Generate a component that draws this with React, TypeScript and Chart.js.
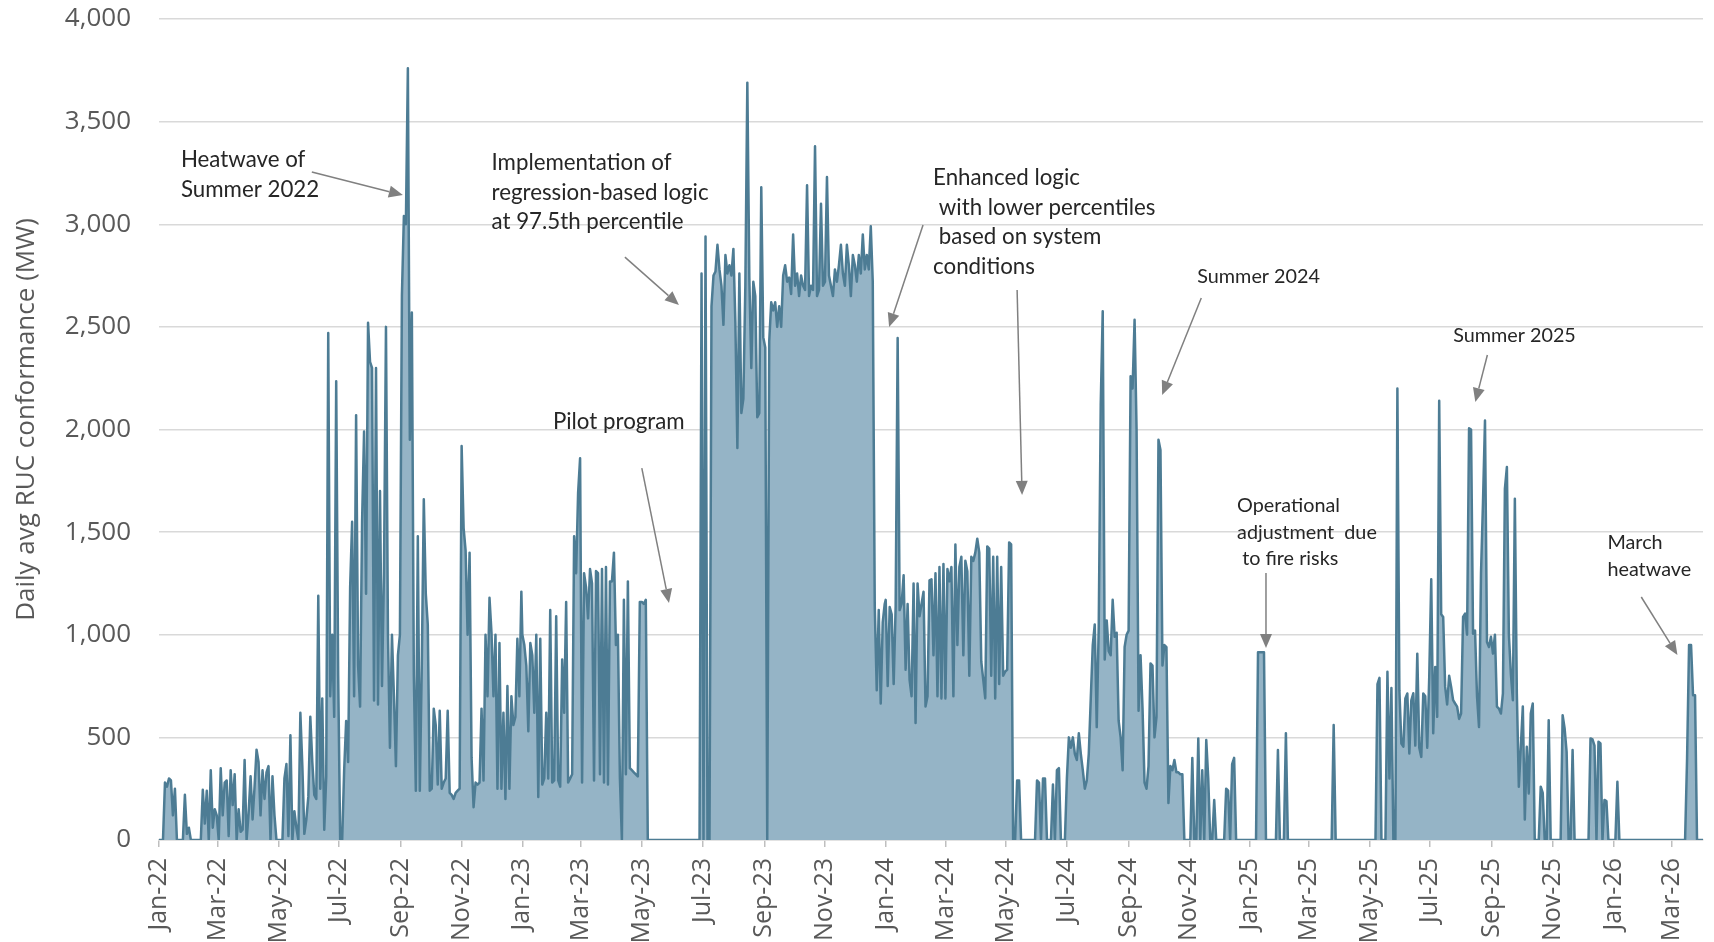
import React, { useEffect, useRef } from 'react';
import { Chart, registerables } from 'chart.js';

Chart.register(...registerables);

const MONTHS = ['Jan', 'Feb', 'Mar', 'Apr', 'May', 'Jun', 'Jul', 'Aug', 'Sep', 'Oct', 'Nov', 'Dec'];
const ORIGIN = Date.UTC(2022, 0, 1);
const dayOf = (y: number, m: number, d = 1) => Math.round((Date.UTC(y, m, d) - ORIGIN) / 864e5);

// X-axis tick labels (every two months)
const tickLabels = [
  'Jan-22', 'Mar-22', 'May-22', 'Jul-22', 'Sep-22', 'Nov-22',
  'Jan-23', 'Mar-23', 'May-23', 'Jul-23', 'Sep-23', 'Nov-23',
  'Jan-24', 'Mar-24', 'May-24', 'Jul-24', 'Sep-24', 'Nov-24',
  'Jan-25', 'Mar-25', 'May-25', 'Jul-25', 'Sep-25', 'Nov-25',
  'Jan-26', 'Mar-26',
];
const yTickValues = [0, 500, 1000, 1500, 2000, 2500, 3000, 3500, 4000];
const axisEnd = [2026, 3, 1]; // 1 Apr 2026

// Daily avg RUC conformance (MW), one reading every 2 days from 1 Jan of each year
const STEP_DAYS = 2;
const seriesYears = [2022, 2023, 2024, 2025, 2026];

const mw2022 = [
  0, 0, 0, 280, 260, 300, 290, 120, 250, 0, 0, 0, 0, 220, 30, 60, // Jan
  0, 0, 0, 0, 0, 0, 245, 80, 240, 0, 340, 60, 150, 120, // Feb
  0, 350, 120, 280, 290, 20, 340, 170, 320, 0, 150, 40, 50, 390, 0, // Mar
  130, 310, 100, 260, 440, 380, 120, 340, 200, 330, 360, 0, 310, 120, 0, // Apr
  0, 0, 0, 300, 370, 20, 510, 0, 140, 60, 0, 620, 360, 30, 100, 210, // May
  600, 380, 220, 200, 1190, 250, 690, 50, 310, 2470, 700, 1000, 600, 2235, 800, // Jun
  0, 0, 340, 580, 380, 1230, 1550, 700, 2070, 850, 650, 1550, 1990, 1200, 2520, // Jul
  2330, 2300, 680, 2300, 660, 1700, 750, 1300, 2500, 1000, 450, 1000, 700, 360, 900, 1000, // Aug
  2650, 3040, 3000, 3760, 1950, 2570, 800, 240, 1480, 240, 860, 1660, 1200, 1050, 240, // Sep
  250, 640, 560, 270, 630, 250, 280, 300, 630, 230, 220, 200, 230, 240, 250, // Oct
  1920, 1520, 1410, 1000, 1400, 400, 160, 280, 270, 280, 640, 290, 1000, 700, 1180, // Nov
  1010, 700, 1000, 250, 960, 250, 620, 200, 750, 250, 700, 560, 600, 980, 700, 1210, // Dec
];

const mw2023 = [
  1000, 950, 850, 530, 960, 900, 620, 1000, 210, 980, 270, 300, 620, 300, 1120, 280, // Jan
  290, 1090, 290, 260, 880, 620, 1160, 280, 300, 320, 1480, 1300, 1690, 1860, // Feb
  280, 1300, 1230, 1080, 1320, 1250, 290, 1310, 1300, 320, 1320, 280, 1330, 270, 1260, // Mar
  1260, 1400, 950, 1000, 300, 0, 1170, 320, 1260, 350, 340, 330, 320, 310, 1160, // Apr
  1160, 1150, 1170, 0, 0, 0, 0, 0, 0, 0, 0, 0, 0, 0, 0, 0, // May
  0, 0, 0, 0, 0, 0, 0, 0, 0, 0, 0, 0, 0, 0, 2760, // Jun
  0, 2940, 0, 0, 2600, 2750, 2770, 2900, 2780, 2700, 2510, 2850, 2760, 2800, 2750, // Jul
  2880, 2520, 1910, 2760, 2080, 2150, 2700, 3690, 2740, 2300, 2720, 2650, 2060, 2080, 3180, 2450, // Aug
  2400, 0, 2430, 2620, 2580, 2620, 2500, 2600, 2500, 2750, 2800, 2720, 2740, 2660, 2950, // Sep
  2700, 2760, 2650, 2750, 2700, 2680, 3190, 2650, 2700, 2680, 3380, 2650, 2680, 3100, 2700, // Oct
  2720, 3230, 2750, 2700, 2650, 2780, 2720, 2800, 2900, 2760, 2700, 2900, 2800, 2650, 2850, // Nov
  2800, 2720, 2850, 2760, 2950, 2780, 2850, 2780, 2990, 2720, 1140, 730, 1120, 665, 1060, 1150, // Dec
];

const mw2024 = [
  1170, 750, 1135, 1100, 760, 1140, 2446, 1120, 1150, 1290, 830, 1150, 780, 700, 1250, 570, // Jan
  1250, 1090, 1150, 1210, 650, 700, 1265, 1270, 900, 1300, 700, 1330, 690, 1345, // Feb
  690, 1320, 1260, 1330, 700, 1440, 950, 1330, 1380, 900, 1360, 1310, 800, 1380, 1360, // Mar
  1400, 1468, 1400, 870, 780, 690, 1430, 1420, 800, 1380, 690, 1380, 760, 1330, 800, // Apr
  820, 830, 1450, 1440, 0, 0, 290, 290, 0, 0, 0, 0, 0, 0, 0, 0, // May
  290, 280, 0, 300, 300, 0, 0, 0, 270, 0, 340, 350, 0, 0, 0, // Jun
  300, 500, 450, 500, 420, 390, 520, 420, 340, 250, 290, 420, 690, 950, 1050, // Jul
  550, 1040, 2120, 2576, 880, 1070, 920, 900, 1170, 990, 1010, 580, 500, 340, 940, 1000, // Aug
  1020, 2260, 2200, 2535, 2000, 630, 900, 640, 280, 250, 360, 860, 850, 500, 600, // Sep
  1950, 1900, 850, 950, 940, 180, 360, 340, 390, 330, 330, 320, 320, 0, 0, // Oct
  0, 0, 400, 0, 0, 495, 0, 340, 0, 487, 300, 0, 0, 195, 0, // Nov
  0, 0, 0, 0, 250, 240, 0, 370, 400, 0, 0, 0, 0, 0, 0, 0, // Dec
];

const mw2025 = [
  0, 0, 0, 0, 915, 915, 915, 915, 0, 0, 0, 0, 0, 0, 438, 0, // Jan
  0, 0, 520, 0, 0, 0, 0, 0, 0, 0, 0, 0, 0, 0, // Feb
  0, 0, 0, 0, 0, 0, 0, 0, 0, 0, 0, 0, 560, 0, 0, // Mar
  0, 0, 0, 0, 0, 0, 0, 0, 0, 0, 0, 0, 0, 0, 0, // Apr
  0, 0, 0, 0, 760, 790, 0, 0, 0, 820, 300, 740, 0, 0, 2200, 730, // May
  470, 455, 690, 714, 422, 681, 715, 460, 908, 450, 405, 714, 700, 450, 795, // Jun
  1270, 520, 843, 600, 2140, 1100, 1087, 746, 660, 800, 746, 681, 665, 650, 590, // Jul
  616, 1087, 1103, 1000, 2006, 2000, 1005, 1020, 700, 551, 1300, 1646, 2044, 965, 940, 990, // Aug
  908, 1000, 650, 640, 616, 714, 1711, 1817, 1000, 811, 681, 1662, 714, 260, 454, // Sep
  650, 100, 454, 227, 616, 665, 0, 0, 0, 260, 230, 0, 0, 584, 0, // Oct
  0, 0, 0, 0, 0, 608, 543, 430, 0, 0, 438, 0, 0, 0, 0, // Nov
  0, 0, 0, 0, 495, 490, 460, 0, 479, 470, 0, 195, 190, 0, 0, 0, // Dec
];

const mw2026 = [
  0, 0, 284, 0, 0, 0, 0, 0, 0, 0, 0, 0, 0, 0, 0, 0, // Jan
  0, 0, 0, 0, 0, 0, 0, 0, 0, 0, 0, 0, 0, 0, // Feb
  0, 0, 0, 0, 0, 0, 0, 397, 950, 950, 705, 705, 0, 0, 0, 0, // Mar
];

// Annotations: text anchor [day, MW] and arrows [fromDay, fromMW, toDay, toMW]
const notes = [
  { lines: ['Heatwave of', 'Summer 2022'], at: [22, 3313], size: 22.3, arrows: [[153.5, 3255, 245, 3142]] },
  { lines: ['Implementation of', 'regression-based logic', 'at 97.5th percentile'], at: [334, 3298], size: 22.3, arrows: [[468, 2840, 522.3, 2607]] },
  { lines: ['Pilot program'], at: [395.7, 2037], size: 22.3, arrows: [[485, 1812, 512.3, 1155]] },
  { lines: ['Enhanced logic', ' with lower percentiles', ' based on system', 'conditions'], at: [777.6, 3225], size: 22.3, arrows: [[767.5, 2996, 733.4, 2499], [862, 2680, 867, 1681]] },
  { lines: ['Summer 2024'], at: [1043, 2743], size: 19.8, arrows: [[1047, 2641, 1007.7, 2168]] },
  { lines: ['Operational', 'adjustment  due', ' to fire risks'], at: [1083, 1627], size: 19.8, arrows: [[1112, 1301, 1112, 935]] },
  { lines: ['Summer 2025'], at: [1300, 2456], size: 19.8, arrows: [[1334.4, 2363, 1322.3, 2134]] },
  { lines: ['March', 'heatwave'], at: [1455, 1447], size: 19.8, arrows: [[1489, 1184, 1525.3, 901]] },
];

const yTitle = 'Daily avg RUC conformance (MW)';

function buildPoints() {
  const arrays = [mw2022, mw2023, mw2024, mw2025, mw2026];
  const pts: { x: number; y: number }[] = [];
  arrays.forEach((arr, k) => {
    const start = dayOf(seriesYears[k], 0, 1);
    arr.forEach((v, i) => pts.push({ x: start + STEP_DAYS * i, y: v }));
  });
  return pts;
}

const tickDay = (label: string) => {
  const [mon, yy] = label.split('-');
  return dayOf(2000 + Number(yy), MONTHS.indexOf(mon), 1);
};

function drawArrow(ctx: CanvasRenderingContext2D, x1: number, y1: number, x2: number, y2: number) {
  const ang = Math.atan2(y2 - y1, x2 - x1);
  const L = 14;
  const W = 6;
  const bx = x2 - L * Math.cos(ang);
  const by = y2 - L * Math.sin(ang);
  ctx.strokeStyle = '#808080';
  ctx.fillStyle = '#808080';
  ctx.lineWidth = 1.5;
  ctx.beginPath();
  ctx.moveTo(x1, y1);
  ctx.lineTo(bx, by);
  ctx.stroke();
  ctx.beginPath();
  ctx.moveTo(x2, y2);
  ctx.lineTo(bx + W * Math.sin(ang), by - W * Math.cos(ang));
  ctx.lineTo(bx - W * Math.sin(ang), by + W * Math.cos(ang));
  ctx.closePath();
  ctx.fill();
}

const notesPlugin = {
  id: 'notes',
  afterDatasetsDraw(chart: any) {
    const { ctx, scales } = chart;
    const x = scales.x;
    const y = scales.y;
    ctx.save();
    for (const n of notes) {
      ctx.font = `${n.size}px Lato`;
      ctx.fillStyle = '#262626';
      ctx.textAlign = 'left';
      ctx.textBaseline = 'middle';
      const px = x.getPixelForValue(n.at[0]);
      const py = y.getPixelForValue(n.at[1]);
      const lh = n.size * 1.32;
      n.lines.forEach((t, i) => ctx.fillText(t, px, py + i * lh));
      for (const a of n.arrows) {
        drawArrow(ctx, x.getPixelForValue(a[0]), y.getPixelForValue(a[1]), x.getPixelForValue(a[2]), y.getPixelForValue(a[3]));
      }
    }
    ctx.restore();

    ctx.save();
    ctx.translate(33.5, 419.5);
    ctx.rotate(-Math.PI / 2);
    ctx.font = '26px "Open Sans"';
    ctx.fillStyle = '#595959';
    ctx.textAlign = 'center';
    ctx.textBaseline = 'alphabetic';
    ctx.fillText(yTitle, 0, 0);
    ctx.restore();
  },
};

export default function App() {
  const ref = useRef<HTMLCanvasElement>(null);
  useEffect(() => {
    const canvas = ref.current;
    if (!canvas) return;
    const chart = new Chart(canvas, {
      type: 'line',
      data: {
        datasets: [
          {
            data: buildPoints(),
            borderColor: '#4d7c94',
            backgroundColor: '#95b4c6',
            borderWidth: 2.5,
            fill: 'origin',
            pointRadius: 0,
            tension: 0,
            borderJoinStyle: 'round',
          } as any,
        ],
      },
      options: {
        responsive: false,
        animation: false,
        layout: { padding: { top: 19, right: 11, left: 0, bottom: 0 } },
        plugins: { legend: { display: false }, tooltip: { enabled: false } },
        scales: {
          x: {
            type: 'linear',
            min: 0,
            max: dayOf(axisEnd[0], axisEnd[1], axisEnd[2]),
            afterBuildTicks: (s: any) => {
              s.ticks = tickLabels.map((l) => ({ value: tickDay(l) }));
            },
            afterFit: (s: any) => {
              s.height = 102;
              s.paddingLeft = 0;
              s.paddingRight = 0;
            },
            ticks: {
              autoSkip: false,
              minRotation: 90,
              maxRotation: 90,
              padding: 11,
              color: '#595959',
              font: { family: '"Open Sans", sans-serif', size: 25 },
              callback: (_v: any, i: number) => tickLabels[i],
            },
            grid: { drawOnChartArea: false, drawTicks: true, tickLength: 7, color: '#bfbfbf', lineWidth: 1.5 },
            border: { display: true, color: '#d9d9d9', width: 1.5 },
          },
          y: {
            min: 0,
            max: 4000,
            afterBuildTicks: (s: any) => {
              s.ticks = yTickValues.map((v) => ({ value: v }));
            },
            afterFit: (s: any) => {
              s.width = 159;
              s.paddingTop = 0;
              s.paddingBottom = 0;
            },
            ticks: {
              padding: 28,
              color: '#595959',
              font: { family: '"Open Sans", sans-serif', size: 26 },
              callback: (v: any) => Number(v).toLocaleString('en-US'),
            },
            grid: { color: '#d9d9d9', lineWidth: 1.5, drawTicks: false },
            border: { display: false },
          },
        },
      } as any,
      plugins: [notesPlugin],
    });
    return () => chart.destroy();
  }, []);
  return (
    <div style={{ position: 'absolute', left: 0, top: 0, width: 1714, height: 942, background: '#fff' }}>
      <canvas ref={ref} width={1714} height={942} style={{ display: 'block' }} />
    </div>
  );
}
